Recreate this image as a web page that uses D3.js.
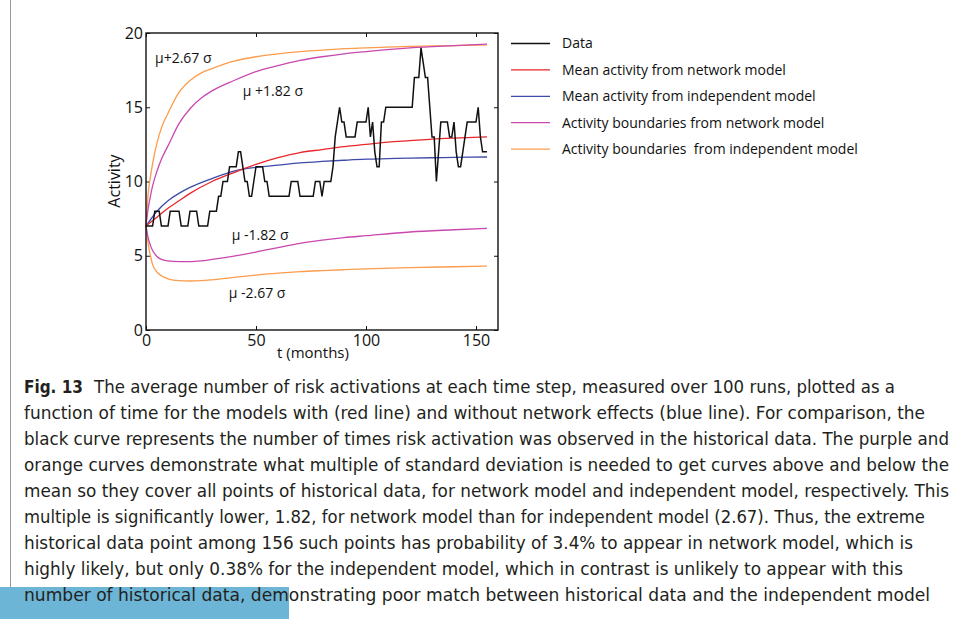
<!DOCTYPE html>
<html lang="en">
<head>
<meta charset="UTF-8">
<title>Fig. 13</title>
<style>
  body { margin: 0; background: #fff; }
  svg { display: block; }
</style>
</head>
<body>
<svg></svg>
<script src="https://d3js.org/d3.v7.min.js"></script>
<script>
// historical data, one value per month (t = 0 .. 155)
const observed = [
  7, 7, 7, 7, 8, 8, 8, 7, 7, 7, 7, 8, 8, 8, 8, 8, 7, 7, 7, 7,
  8, 8, 8, 8, 7, 7, 7, 7, 7, 8, 8, 8, 8, 9, 9, 10, 10, 10, 11, 11,
  11, 11, 12, 12, 11, 10, 10, 9, 9, 10, 11, 11, 11, 11, 10, 10, 9, 9, 9, 9,
  9, 9, 9, 9, 9, 9, 10, 10, 10, 10, 9, 9, 9, 9, 9, 9, 9, 10, 10, 10,
  9, 10, 10, 10, 10, 11, 13, 14, 15, 14, 14, 13, 13, 13, 13, 13, 14, 14, 14, 14,
  14, 15, 13, 14, 12, 11, 11, 14, 14, 15, 15, 15, 15, 15, 15, 15, 15, 15, 15, 15,
  15, 15, 17, 17, 17, 19, 18, 17, 17, 15, 13, 13, 10, 12, 14, 14, 14, 14, 13, 13,
  14, 12, 11, 11, 12, 13, 14, 14, 14, 14, 14, 15, 13, 12, 12, 12
];

const meanT = [0, 5, 10, 15, 20, 30, 40, 50, 60, 70, 80, 90, 100, 110, 120, 130, 140, 155];
const meanNetwork = [7, 7.6, 8.2, 8.7, 9.2, 10.0, 10.6, 11.15, 11.6, 11.95, 12.15, 12.35, 12.5, 12.65, 12.75, 12.85, 12.92, 13.0];
const meanIndependent = [7, 8.0, 8.7, 9.2, 9.6, 10.2, 10.7, 10.95, 11.1, 11.25, 11.35, 11.43, 11.5, 11.54, 11.58, 11.6, 11.62, 11.65];

const boundT = [0, 1, 2, 3, 5, 7, 10, 15, 20, 25, 30, 40, 50, 60, 70, 80, 90, 100, 120, 140, 155];
const upperNetwork = [7, 8.2, 9.0, 9.7, 10.7, 11.5, 12.4, 13.9, 14.9, 15.6, 16.1, 16.8, 17.4, 17.8, 18.15, 18.4, 18.6, 18.75, 19.0, 19.15, 19.25];
const lowerNetwork = [7, 6.2, 5.7, 5.35, 4.95, 4.75, 4.65, 4.6, 4.6, 4.65, 4.75, 4.98, 5.25, 5.55, 5.84, 6.05, 6.22, 6.35, 6.6, 6.75, 6.85];
const upperIndependent = [7, 9.2, 10.3, 11.2, 12.6, 13.6, 14.6, 16.0, 16.8, 17.3, 17.6, 18.1, 18.4, 18.6, 18.75, 18.85, 18.95, 19.0, 19.1, 19.15, 19.2];
const lowerIndependent = [7, 5.8, 5.0, 4.4, 3.9, 3.65, 3.45, 3.32, 3.3, 3.32, 3.38, 3.55, 3.7, 3.83, 3.93, 4.0, 4.06, 4.12, 4.2, 4.26, 4.3];

const xTicks = [0, 50, 100, 150];
const yTicks = [0, 5, 10, 15, 20];

const legendLabels = [
  "Data",
  "Mean activity from network model",
  "Mean activity from independent model",
  "Activity boundaries from network model",
  "Activity boundaries  from independent model"
];

const captionLines = [
  "The average number of risk activations at each time step, measured over 100 runs, plotted as a",
  "function of time for the models with (red line) and without network effects (blue line). For comparison, the",
  "black curve represents the number of times risk activation was observed in the historical data. The purple and",
  "orange curves demonstrate what multiple of standard deviation is needed to get curves above and below the",
  "mean so they cover all points of historical data, for network model and independent model, respectively. This",
  "multiple is significantly lower, 1.82, for network model than for independent model (2.67). Thus, the extreme",
  "historical data point among 156 such points has probability of 3.4% to appear in network model, which is",
  "highly likely, but only 0.38% for the independent model, which in contrast is unlikely to appear with this",
  "number of historical data, demonstrating poor match between historical data and the independent model"
];
// right end of each caption line in the page
const captionEnds = [895, 925, 949, 949, 949, 925, 913, 903, 930];

const width = 954;
const height = 619;
const plot = { left: 146, top: 33, right: 498, bottom: 330 };
const colors = {
  data: "#111",
  red: "#e8262b",
  blue: "#3e4aa8",
  magenta: "#c948ae",
  orange: "#fd9c4c"
};

const svg = d3.select("svg").attr("width", width).attr("height", height)
  .style("font-family", "'Open Sans', 'DejaVu Sans', sans-serif");

// page decorations
svg.append("rect").attr("x", 0).attr("y", 587).attr("width", 289).attr("height", 32).attr("fill", "#6cb5d7");
svg.append("line").attr("x1", 10.5).attr("x2", 10.5).attr("y1", 0).attr("y2", 587)
  .attr("stroke", "#9a9a9a").attr("stroke-width", 1);

const xScale = d3.scaleLinear().domain([0, 160]).range([plot.left, plot.right]);
const yScale = d3.scaleLinear().domain([0, 20]).range([plot.bottom, plot.top]);

// axes with inward ticks on all four sides
const axisStyle = g => {
  g.select(".domain").remove();
  g.selectAll("line").attr("stroke", "#111").attr("stroke-width", 1);
  g.selectAll("text").attr("fill", "#111").style("font-size", "16px")
    .style("font-family", "'Open Sans', 'DejaVu Sans', sans-serif");
};

svg.append("g")
  .attr("transform", `translate(0,${plot.bottom})`)
  .call(d3.axisBottom(xScale).tickValues(xTicks).tickSizeInner(-4).tickSizeOuter(0).tickPadding(5))
  .call(axisStyle);

svg.append("g")
  .attr("transform", `translate(0,${plot.top})`)
  .call(d3.axisTop(xScale).tickValues(xTicks).tickSizeInner(-4).tickSizeOuter(0).tickFormat(""))
  .call(axisStyle);

svg.append("g")
  .attr("transform", `translate(${plot.left},0)`)
  .call(d3.axisLeft(yScale).tickValues(yTicks).tickSizeInner(-4).tickSizeOuter(0).tickPadding(3))
  .call(axisStyle);

svg.append("g")
  .attr("transform", `translate(${plot.right},0)`)
  .call(d3.axisRight(yScale).tickValues(yTicks).tickSizeInner(-4).tickSizeOuter(0).tickFormat(""))
  .call(axisStyle);

// model curves
const curve = (ts, vs) => ts.map((t, i) => [t, vs[i]]);
const smooth = d3.line().x(d => xScale(d[0])).y(d => yScale(d[1])).curve(d3.curveMonotoneX);

const series = [
  { pts: curve(boundT, upperIndependent), color: colors.orange },
  { pts: curve(boundT, lowerIndependent), color: colors.orange },
  { pts: curve(boundT, upperNetwork), color: colors.magenta },
  { pts: curve(boundT, lowerNetwork), color: colors.magenta },
  { pts: curve(meanT, meanIndependent), color: colors.blue },
  { pts: curve(meanT, meanNetwork), color: colors.red }
];

svg.append("g").selectAll("path")
  .data(series)
  .join("path")
    .attr("d", d => smooth(d.pts))
    .attr("fill", "none")
    .attr("stroke", d => d.color)
    .attr("stroke-width", 1.3);

// historical data
svg.append("path")
  .datum(observed)
  .attr("d", d3.line().x((d, i) => xScale(i)).y(d => yScale(d)))
  .attr("fill", "none")
  .attr("stroke", colors.data)
  .attr("stroke-width", 1.5)
  .attr("stroke-linejoin", "miter");

// frame
svg.append("rect")
  .attr("x", plot.left).attr("y", plot.top)
  .attr("width", plot.right - plot.left).attr("height", plot.bottom - plot.top)
  .attr("fill", "none").attr("stroke", "#111").attr("stroke-width", 1.4);

// curve annotations
const notes = [
  { t: 4.1, v: 18.0, text: "μ+2.67 σ" },
  { t: 44, v: 15.75, text: "μ +1.82 σ" },
  { t: 39, v: 6.05, text: "μ -1.82 σ" },
  { t: 37.6, v: 2.15, text: "μ -2.67 σ" }
];
svg.append("g").selectAll("text")
  .data(notes)
  .join("text")
    .attr("x", d => xScale(d.t))
    .attr("y", d => yScale(d.v))
    .attr("fill", "#111")
    .style("font-size", "14px")
    .text(d => d.text);

// axis titles
svg.append("text")
  .attr("x", 313).attr("y", 358)
  .attr("text-anchor", "middle")
  .attr("fill", "#111").style("font-size", "15px")
  .text("t (months)");

svg.append("text")
  .attr("transform", "translate(120,181) rotate(-90)")
  .attr("text-anchor", "middle")
  .attr("fill", "#111").style("font-size", "16px")
  .text("Activity");

// legend
const legendColors = [colors.data, colors.red, colors.blue, colors.magenta, colors.orange];
const legend = svg.append("g")
  .selectAll("g")
  .data(legendLabels)
  .join("g")
    .attr("transform", (d, i) => `translate(511,${43.5 + i * 26.4})`);

legend.append("line")
  .attr("x1", 0).attr("x2", 39)
  .attr("stroke", (d, i) => legendColors[i])
  .attr("stroke-width", 1.3);

legend.append("text")
  .attr("x", 51).attr("dy", "0.35em")
  .attr("fill", "#111")
  .style("font-size", "14px")
  .style("white-space", "pre")
  .text(d => d);

// caption
const caption = svg.append("g")
  .style("font-family", "'Liberation Sans Narrow', 'DejaVu Sans Condensed', 'Open Sans', sans-serif")
  .style("font-size", "18px")
  .attr("fill", "#231f20");

caption.append("text")
  .attr("x", 24).attr("y", 393)
  .attr("font-weight", "bold")
  .attr("textLength", 59).attr("lengthAdjust", "spacingAndGlyphs")
  .text("Fig. 13");

caption.selectAll("text.line")
  .data(captionLines)
  .join("text")
    .attr("class", "line")
    .attr("x", (d, i) => i === 0 ? 94 : 24)
    .attr("y", (d, i) => 393 + i * 26)
    .attr("textLength", (d, i) => captionEnds[i] - (i === 0 ? 94 : 24))
    .attr("lengthAdjust", "spacingAndGlyphs")
    .text(d => d);
</script>
</body>
</html>
